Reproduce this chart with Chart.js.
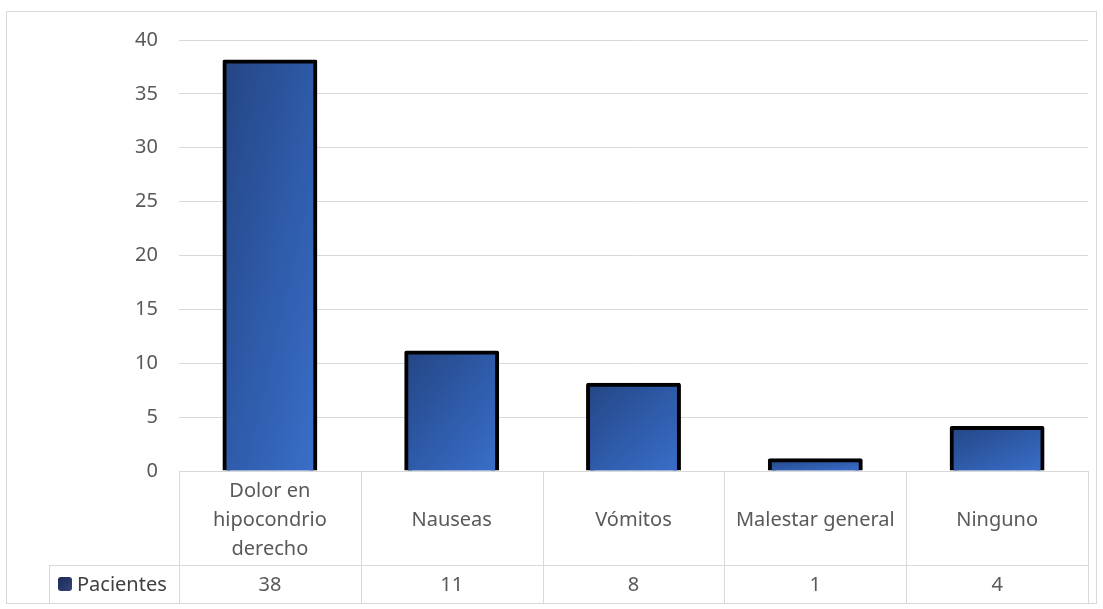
<!DOCTYPE html>
<html>
<head>
<meta charset="utf-8">
<script src="https://cdn.jsdelivr.net/npm/chart.js@4/dist/chart.umd.min.js"></script>
<style>
    html, body { margin: 0; padding: 0; background: #fff; }
    #wrap { width: 1103px; height: 609px; }
</style>
</head>
<body>
<div id="wrap"><canvas id="sintomasChart" width="1103" height="609"></canvas></div>
<script>
const categories = [['Dolor en', 'hipocondrio', 'derecho'], 'Nauseas', 'Vómitos', 'Malestar general', 'Ninguno'];
const pacientes = [38, 11, 8, 1, 4];
const seriesLabel = 'Pacientes';
const yTicks = [0, 5, 10, 15, 20, 25, 30, 35, 40];

const FONT = '"Noto Sans", "Open Sans", sans-serif';
const FONT_SIZE = 20;
const GRID = '#d9d9d9';
const BAR_PCT = 0.5;
const INFLATE = 2;

// degradado diagonal escalado a la forma de la barra:
// esquina sup-izq oscura, esquina inf-der clara
function barGradient(ctx) {
    const chart = ctx.chart;
    const area = chart.chartArea;
    if (!area || ctx.type !== 'data') return '#2f5aa5';
    const { x, y } = chart.scales;
    const w = area.width / categories.length * BAR_PCT + INFLATE * 2;
    const left = x.getPixelForValue(ctx.dataIndex) - w / 2;
    const top = y.getPixelForValue(ctx.raw) - INFLATE;
    const h = Math.max(y.getPixelForValue(0) - top, 1);
    const k = 2 * w * h / (w * w + h * h);
    const g = chart.ctx.createLinearGradient(left, top, left + k * h, top + k * w);
    g.addColorStop(0, '#244583');
    g.addColorStop(0.5, '#2e5aa8');
    g.addColorStop(1, '#3a6fca');
    return g;
}

// marco exterior y fondo
const frame = {
    id: 'frame',
    beforeDraw(chart) {
        const c = chart.ctx;
        c.save();
        c.fillStyle = '#fff';
        c.fillRect(0, 0, chart.width, chart.height);
        c.strokeStyle = GRID;
        c.lineWidth = 1;
        c.strokeRect(6.5, 11.5, 1090, 592);
        c.restore();
    }
};

// tabla de datos bajo el eje X
const dataTable = {
    id: 'dataTable',
    afterDraw(chart) {
        const c = chart.ctx;
        const area = chart.chartArea;
        const x = chart.scales.x;
        const colW = area.width / categories.length;
        const top = area.bottom;
        const rowSplit = top + 94;
        const bottom = rowSplit + 38;
        const legendLeft = 49.5;

        c.save();
        c.strokeStyle = GRID;
        c.lineWidth = 1;
        c.beginPath();
        // horizontales
        c.moveTo(area.left, top + 0.5); c.lineTo(area.right, top + 0.5);
        c.moveTo(legendLeft, rowSplit + 0.5); c.lineTo(area.right, rowSplit + 0.5);
        c.moveTo(legendLeft, bottom + 0.5); c.lineTo(area.right, bottom + 0.5);
        // verticales
        for (let i = 0; i <= categories.length; i++) {
            const px = Math.round(area.left + i * colW) + 0.5;
            c.moveTo(px, top); c.lineTo(px, bottom);
        }
        c.moveTo(legendLeft, rowSplit); c.lineTo(legendLeft, bottom);
        c.stroke();

        c.fillStyle = '#595959';
        c.font = FONT_SIZE + 'px ' + FONT;
        c.textAlign = 'center';
        c.textBaseline = 'middle';
        const lineH = 29;
        categories.forEach((cat, i) => {
            const lines = Array.isArray(cat) ? cat : [cat];
            const cx = x.getPixelForValue(i);
            const mid = (top + rowSplit) / 2 + 2;
            lines.forEach((ln, j) => {
                c.fillText(ln, cx, mid + (j - (lines.length - 1) / 2) * lineH);
            });
            c.fillText(String(pacientes[i]), cx, (rowSplit + bottom) / 2 + 1);
        });

        // clave de la serie
        const ky = (rowSplit + bottom) / 2;
        const kg = c.createLinearGradient(58, ky - 7, 72, ky + 7);
        kg.addColorStop(0, '#1c2a55');
        kg.addColorStop(1, '#33447a');
        c.fillStyle = kg;
        c.beginPath();
        c.roundRect(58, ky - 7, 14, 14, 3);
        c.fill();
        c.fillStyle = '#404040';
        c.textAlign = 'left';
        c.fillText(seriesLabel, 77, ky + 1);
        c.restore();
    }
};

new Chart(document.getElementById('sintomasChart'), {
    type: 'bar',
    data: {
        labels: categories,
        datasets: [{
            label: seriesLabel,
            data: pacientes,
            backgroundColor: barGradient,
            borderColor: '#000',
            borderWidth: 4,
            borderRadius: 2,
            inflateAmount: INFLATE,
            barPercentage: BAR_PCT,
            categoryPercentage: 1
        }]
    },
    options: {
        responsive: false,
        animation: false,
        layout: {
            padding: { top: 40, right: 15, bottom: 138, left: 0 }
        },
        scales: {
            x: {
                display: false
            },
            y: {
                min: 0,
                max: 40,
                afterBuildTicks: (scale) => {
                    scale.ticks = yTicks.map(v => ({ value: v }));
                },
                afterFit: (scale) => { scale.width = 179; },
                border: { display: false },
                grid: { color: GRID, lineWidth: 1, drawTicks: false },
                ticks: {
                    color: '#595959',
                    padding: 21,
                    font: { family: FONT, size: FONT_SIZE }
                }
            }
        },
        plugins: {
            legend: { display: false },
            tooltip: { enabled: false }
        }
    },
    plugins: [frame, dataTable]
});
</script>
</body>
</html>
